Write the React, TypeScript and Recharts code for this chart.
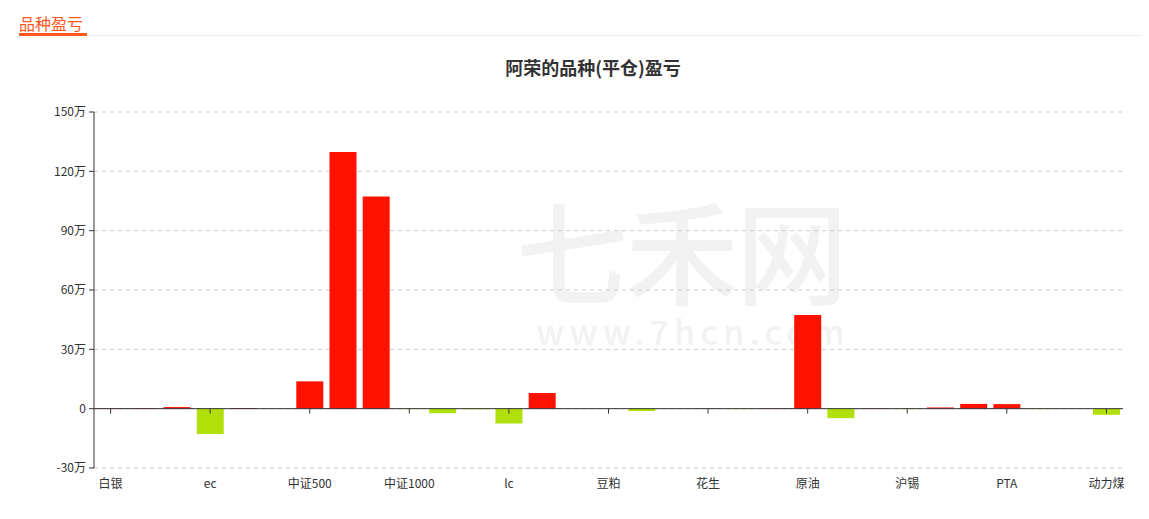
import React from 'react';
import { BarChart, Bar, XAxis, YAxis, CartesianGrid, Cell, ReferenceLine } from 'recharts';

const categories = [
  '白银', '沪金', '沪铜', 'ec', '螺纹钢', '铁矿石', '中证500', '沪深300', '上证50', '中证1000',
  '工业硅', '碳酸锂期权', 'lc', '纯碱', '玻璃', '豆粕', '豆油', '棕榈油', '花生', '苹果',
  '燃油', '原油', '沥青', '沪镍', '沪锡', '沪铝', '甲醇', 'PTA', '橡胶', '焦煤', '动力煤',
];

// 单位：万元
const profitWan = [
  0.2, 0.3, 0.8, -12.8, 0.4, 0, 13.8, 129.8, 107.3, -0.2,
  -2.3, -0.3, -7.5, 7.9, 0, 0, -1.2, 0, 0.1, -0.2,
  0.2, 47.4, -4.8, 0.2, -0.2, 0.6, 2.4, 2.3, -0.2, 0, -3.1,
];

const yTicks = [-300000, 0, 300000, 600000, 900000, 1200000, 1500000];

const data = categories.map((name, i) => ({ name, value: profitWan[i] * 10000 }));
const labeled = categories.filter((_, i) => i % 3 === 0);

const RED = '#ff1100';
const GREEN = '#b2e00a';

const fmtY = (v: number) => (v === 0 ? '0' : `${v / 10000}万`);

export default function App() {
  return (
    <div style={{ position: 'relative', width: 1149, height: 519, margin: '-8px 0 0 -8px', fontFamily: '"Noto Sans CJK SC", "Noto Sans", sans-serif', overflow: 'hidden', background: '#fff' }}>
      {/* watermark */}
      <svg width={1149} height={519} style={{ position: 'absolute', left: 0, top: 0 }}>
        <text fill="#f2f2f2" fontWeight={500} fontFamily='"Noto Sans CJK SC", sans-serif'>
          <tspan x={516} y={297} fontSize={112} letterSpacing={-2}>七禾网</tspan>
          <tspan x={536} y={345} fontSize={34} letterSpacing={5.2}>www.7hcn.com</tspan>
        </text>
      </svg>
      {/* header */}
      <div style={{ position: 'absolute', left: 19, top: 13, fontSize: 16, color: '#ff5722', lineHeight: '20px' }}>品种盈亏</div>
      <div style={{ position: 'absolute', left: 19, top: 35, width: 1130, height: 1, background: '#e8e8e8' }} />
      <div style={{ position: 'absolute', left: 19, top: 33, width: 68, height: 3, background: '#ff5722' }} />
      <div style={{ position: 'absolute', left: 0, width: 1186, top: 54, textAlign: 'center', fontSize: 18, fontWeight: 700, color: '#333', lineHeight: '26px' }}>阿荣的品种(平仓)盈亏</div>
      <div style={{ position: 'absolute', left: 0, top: 0 }}>
        <BarChart width={1149} height={519} data={data} margin={{ top: 112, right: 26, bottom: 21, left: 0 }} barCategoryGap="9.5%">
          <CartesianGrid vertical={false} stroke="#cccccc" strokeDasharray="4 4" />
          <XAxis
            dataKey="name"
            interval={2}
            axisLine={false}
            tickLine={false}
            height={30}
            tickMargin={5}
            tick={{ fontSize: 12, fill: '#333' }}
          />
          <YAxis
            domain={[-300000, 1500000]}
            ticks={yTicks}
            tickFormatter={fmtY}
            width={94}
            axisLine={{ stroke: '#333' }}
            tickLine={{ stroke: '#333' }}
            tickSize={5}
            tickMargin={3}
            tick={{ fontSize: 12, fill: '#333' }}
            allowDataOverflow
          />
          <ReferenceLine y={0} stroke="#333" strokeWidth={1} />
          {labeled.map((c) => (
            <ReferenceLine key={c} segment={[{ x: c, y: 0 }, { x: c, y: -25000 }]} stroke="#333" strokeWidth={1} />
          ))}
          <Bar dataKey="value" isAnimationActive={false}>
            {data.map((d, i) => (
              <Cell key={i} fill={d.value >= 0 ? RED : GREEN} />
            ))}
          </Bar>
        </BarChart>
      </div>
    </div>
  );
}
